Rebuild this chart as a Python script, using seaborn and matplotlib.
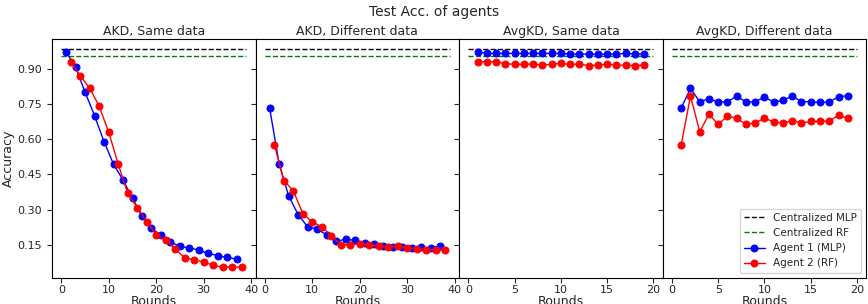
import matplotlib
matplotlib.use('Agg')
import matplotlib.pyplot as plt
import seaborn as sns
import pandas as pd

# Accuracy
central_mlp = 0.986
central_rf = 0.956

# AKD, Same data (agent 1 on odd rounds, agent 2 on even rounds)
akd_same_r1 = list(range(1, 38, 2))
akd_same_a1 = [0.973, 0.907, 0.801, 0.701, 0.590, 0.494, 0.426, 0.349, 0.271, 0.220,
               0.191, 0.163, 0.143, 0.137, 0.127, 0.113, 0.104, 0.096, 0.089]
akd_same_r2 = list(range(2, 39, 2))
akd_same_a2 = [0.930, 0.870, 0.817, 0.740, 0.629, 0.493, 0.369, 0.309, 0.249, 0.193,
               0.169, 0.134, 0.093, 0.087, 0.076, 0.063, 0.054, 0.056, 0.054]

# AKD, Different data
akd_diff_r1 = list(range(1, 38, 2))
akd_diff_a1 = [0.733, 0.496, 0.359, 0.279, 0.227, 0.217, 0.193, 0.166, 0.173, 0.169,
               0.157, 0.154, 0.144, 0.140, 0.141, 0.136, 0.139, 0.137, 0.146]
akd_diff_r2 = list(range(2, 39, 2))
akd_diff_a2 = [0.577, 0.424, 0.380, 0.283, 0.247, 0.227, 0.189, 0.149, 0.151, 0.153,
               0.149, 0.144, 0.141, 0.146, 0.137, 0.134, 0.129, 0.127, 0.127]

# AvgKD, Same data
avg_rounds = list(range(1, 20))
avg_same_a1 = [0.973, 0.966, 0.966, 0.966, 0.966, 0.966, 0.966, 0.966, 0.966, 0.966,
               0.963, 0.963, 0.963, 0.963, 0.963, 0.963, 0.966, 0.964, 0.963]
avg_same_a2 = [0.930, 0.931, 0.929, 0.923, 0.919, 0.920, 0.921, 0.916, 0.919, 0.924,
               0.919, 0.921, 0.914, 0.916, 0.921, 0.916, 0.916, 0.914, 0.916]

# AvgKD, Different data
avg_diff_a1 = [0.733, 0.817, 0.760, 0.773, 0.759, 0.760, 0.784, 0.759, 0.760, 0.780,
               0.759, 0.766, 0.784, 0.761, 0.760, 0.757, 0.759, 0.781, 0.786]
avg_diff_a2 = [0.577, 0.784, 0.633, 0.706, 0.664, 0.699, 0.689, 0.664, 0.670, 0.690,
               0.674, 0.669, 0.680, 0.669, 0.676, 0.677, 0.677, 0.703, 0.689]

panels = [
    ('AKD, Same data', akd_same_r1, akd_same_a1, akd_same_r2, akd_same_a2),
    ('AKD, Different data', akd_diff_r1, akd_diff_a1, akd_diff_r2, akd_diff_a2),
    ('AvgKD, Same data', avg_rounds, avg_same_a1, avg_rounds, avg_same_a2),
    ('AvgKD, Different data', avg_rounds, avg_diff_a1, avg_rounds, avg_diff_a2),
]

sns.set_style('ticks')
plt.rcParams['font.family'] = ['DejaVu Sans']
plt.rcParams['axes.edgecolor'] = 'black'

fig, axes = plt.subplots(1, 4, sharey=True, figsize=(8.68, 3.04))

for ax, (title, r1, a1, r2, a2) in zip(axes, panels):
    end = max(max(r1), max(r2)) + 1
    # Centralized baselines drawn across the whole round range
    base = pd.DataFrame({'x': [0, end], 'mlp': [central_mlp] * 2, 'rf': [central_rf] * 2})
    sns.lineplot(data=base, x='x', y='mlp', ax=ax, color='black', linestyle='--',
                 linewidth=1, label='Centralized MLP')
    sns.lineplot(data=base, x='x', y='rf', ax=ax, color='green', linestyle='--',
                 linewidth=1, label='Centralized RF')

    sns.lineplot(x=r1, y=a1, ax=ax, color='blue', marker='o', markersize=5,
                 markeredgecolor='blue', linewidth=1, label='Agent 1 (MLP)')
    sns.lineplot(x=r2, y=a2, ax=ax, color='red', marker='o', markersize=5,
                 markeredgecolor='red', linewidth=1, label='Agent 2 (RF)')

    ax.set_title(title, fontsize=9, pad=3)
    ax.set_xlabel('Rounds', fontsize=9, labelpad=0)
    ax.set_ylabel('')
    ax.tick_params(labelsize=8)
    ax.tick_params(axis='x', pad=2)
    if ax is not axes[-1]:
        ax.get_legend().remove()

axes[0].set_ylabel('Accuracy', fontsize=9, labelpad=2)
axes[0].set_yticks([0.15, 0.30, 0.45, 0.60, 0.75, 0.90])
axes[0].set_ylim(0.009, 1.028)
axes[-1].legend(loc='lower right', fontsize=7.5)

fig.suptitle('Test Acc. of agents', fontsize=10, y=0.985)
plt.subplots_adjust(left=0.06, right=0.998, top=0.872, bottom=0.086, wspace=0)

plt.savefig('out.png', dpi=100)
